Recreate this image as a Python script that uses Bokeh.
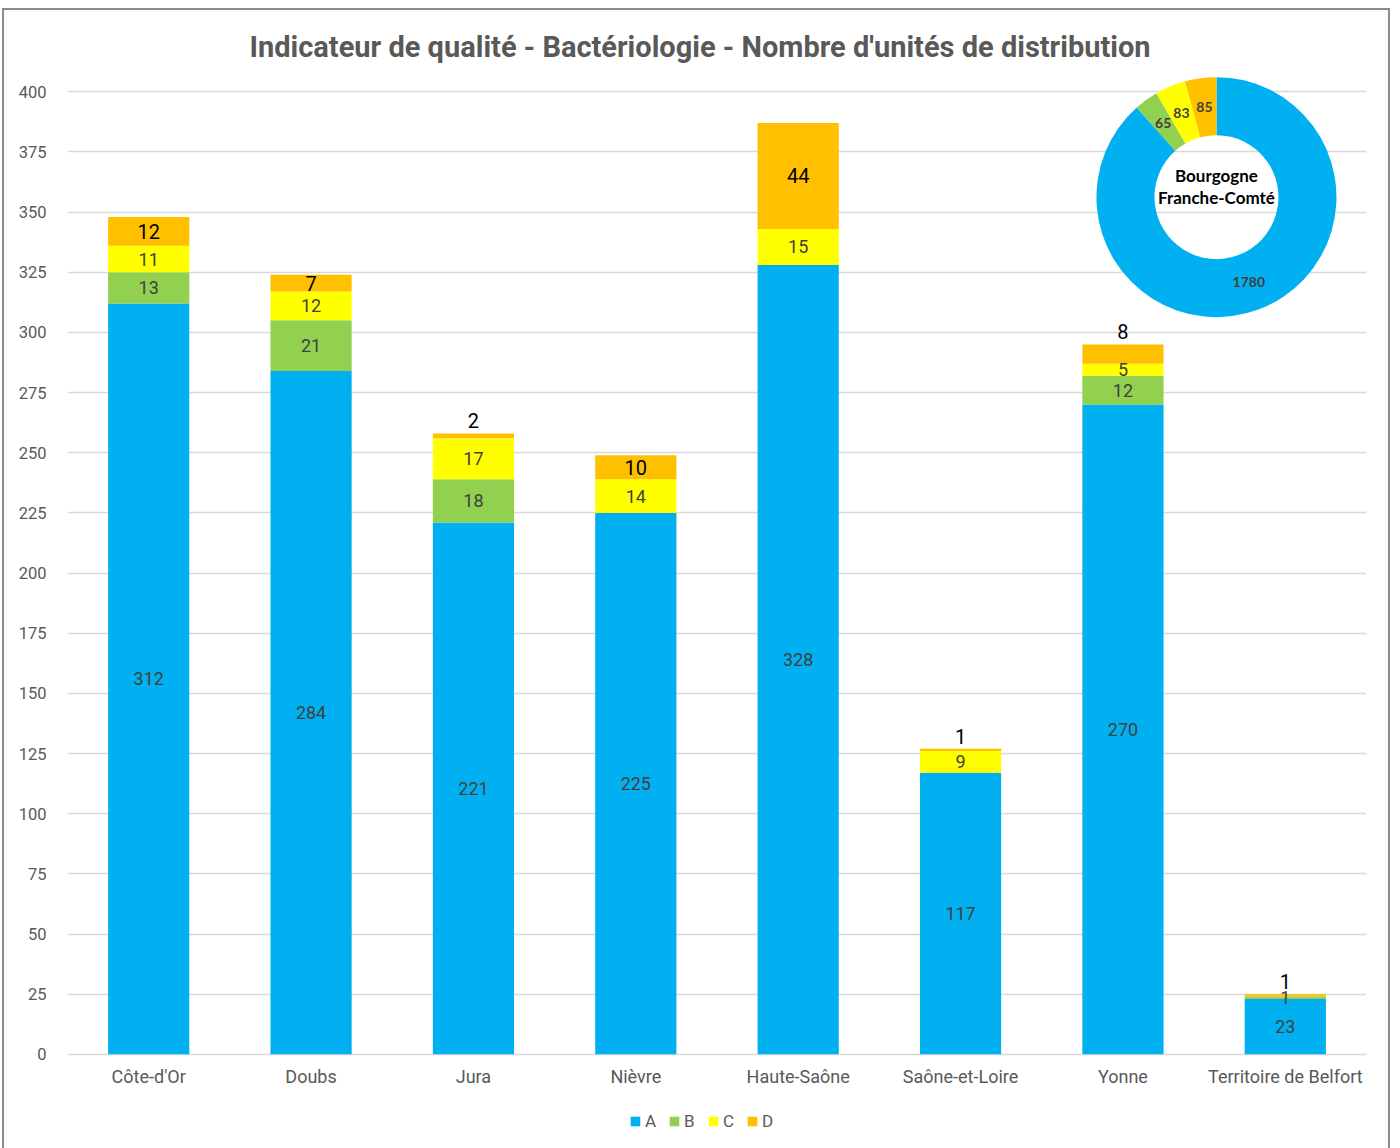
import numpy as np
from bokeh.plotting import figure
from bokeh.models import Range1d, FixedTicker, Legend, LegendItem, ColumnDataSource
from bokeh.core.properties import value
from bokeh.embed import file_html
from bokeh.resources import INLINE

# ---------------- data ----------------
title_text = "Indicateur de qualité - Bactériologie - Nombre d'unités de distribution"
departements = ["Côte-d'Or", "Doubs", "Jura", "Nièvre", "Haute-Saône",
                "Saône-et-Loire", "Yonne", "Territoire de Belfort"]
classes = ["A", "B", "C", "D"]
A = [312, 284, 221, 225, 328, 117, 270, 23]
B = [13, 21, 18, 0, 0, 0, 12, 1]
C = [11, 12, 17, 14, 15, 9, 5, 0]
D = [12, 7, 2, 10, 44, 1, 8, 1]
colors = ["#00B0F0", "#92D050", "#FFFF00", "#FFC000"]
y_ticks = list(range(0, 401, 25))
region_label = "Bourgogne\nFranche-Comté"

series = {"A": A, "B": B, "C": C, "D": D}

# ---------------- figure ----------------
# frame extends below the zero line so the category labels and legend sit inside it
p = figure(x_range=departements, y_range=Range1d(-38.3, 408),
           width=1388, height=1142,
           output_backend="svg", toolbar_location=None,
           min_border_left=63, min_border_right=26,
           min_border_top=62, min_border_bottom=6,
           title=title_text)
p.margin = (8, 0, 0, 2)
p.styles = {"border": "2px solid #8c8c8c", "box-sizing": "border-box"}
p.outline_line_color = None
p.background_fill_color = "white"
p.border_fill_color = "white"

p.title.text_font = "Roboto"
p.title.text_font_size = "29px"
p.title.text_font_style = "bold"
p.title.text_color = "#595959"
p.title.align = "left"
p.title.offset = 182
p.title.standoff = 17

# axes
p.xaxis.visible = False
p.yaxis.ticker = FixedTicker(ticks=y_ticks)
p.yaxis.axis_line_color = None
p.yaxis.major_tick_line_color = None
p.yaxis.minor_tick_line_color = None
p.yaxis.major_label_text_font = "Roboto"
p.yaxis.major_label_text_font_size = "16.5px"
p.yaxis.major_label_text_color = "#595959"
p.yaxis.major_label_standoff = 15

p.xgrid.grid_line_color = None
p.ygrid.grid_line_color = "#d9d9d9"
p.ygrid.grid_line_width = 1.5
p.ygrid.ticker = FixedTicker(ticks=y_ticks)

# stacked bars
src = ColumnDataSource(dict(dep=departements, **series))
renderers = p.vbar_stack(classes, x="dep", width=0.5, color=colors,
                         line_color=None, source=src)

# category labels under the zero line
p.text(x=departements, y=[0] * len(departements), text=departements,
       text_align="center", text_baseline="middle", y_offset=22,
       text_font=value("Roboto"), text_font_size="18px", text_color="#595959")

legend = Legend(items=[LegendItem(label=c, renderers=[r]) for c, r in zip(classes, renderers)],
                orientation="horizontal", location=(562, 15),
                glyph_width=12, glyph_height=12, label_standoff=4, spacing=11,
                label_width=12,
                label_text_font="Roboto", label_text_font_size="17px",
                label_text_color="#595959", border_line_color=None,
                background_fill_alpha=0, padding=0, margin=0)
p.add_layout(legend)

# segment labels
lab_x, lab_y, lab_t = [], [], []
din_x, din_y, din_t = [], [], []
dab_x, dab_y, dab_t = [], [], []
for i, dep in enumerate(departements):
    cum = 0
    for k in classes:
        v = series[k][i]
        if v > 0:
            if k != "D":
                lab_x.append(dep); lab_y.append(cum + v / 2); lab_t.append(str(v))
            else:
                if v < 7 or series["C"][i] < 7:
                    dab_x.append(dep); dab_y.append(cum + v); dab_t.append(str(v))
                else:
                    din_x.append(dep); din_y.append(cum + v / 2); din_t.append(str(v))
        cum += v

p.text(x=lab_x, y=lab_y, text=lab_t, text_align="center", text_baseline="middle",
       text_font=value("Roboto"), text_font_size="18px", text_color="#404040")
p.text(x=din_x, y=din_y, text=din_t, text_align="center", text_baseline="middle",
       text_font=value("Roboto"), text_font_size="20px", text_color="#000000")
p.text(x=dab_x, y=dab_y, text=dab_t, text_align="center", text_baseline="bottom",
       y_offset=-5, text_font=value("Roboto"), text_font_size="20px", text_color="#000000")

# ---------------- donut (inset, placed in synthetic x / data y coords) ----------------
cx, cy = 7.076, 356.2
r_in, r_out = 62, 120

totals = np.array([sum(series[k]) for k in classes], dtype=float)
cum_after = np.cumsum(totals) / totals.sum()
cum_before = np.concatenate([[0], cum_after[:-1]])
start = np.pi / 2 - 2 * np.pi * cum_after
end = np.pi / 2 - 2 * np.pi * cum_before
mid = (start + end) / 2

p.annular_wedge(x=[cx] * 4, y=[cy] * 4, inner_radius=r_in, outer_radius=r_out,
                inner_radius_units="screen", outer_radius_units="screen",
                start_angle=list(start), end_angle=list(end), direction="anticlock",
                fill_color=colors, line_color=None)

r_mid = (r_in + r_out) / 2
dsrc = ColumnDataSource(dict(x=[cx] * 4, y=[cy] * 4,
                             xo=list(r_mid * np.cos(mid)), yo=list(-r_mid * np.sin(mid)),
                             t=[str(int(v)) for v in totals]))
p.text(x="x", y="y", x_offset="xo", y_offset="yo", text="t", source=dsrc,
       text_align="center", text_baseline="middle",
       text_font=value("Lato"), text_font_size="14px", text_font_style="bold",
       text_color="#404040")

p.text(x=[cx], y=[cy], text=[region_label], text_align="center", text_baseline="middle",
       y_offset=-11,
       text_font=value("Lato"), text_font_size="17px", text_font_style="bold",
       text_color="#000000", text_line_height=1.06)

open("out.html", "w").write(file_html(p, INLINE))
